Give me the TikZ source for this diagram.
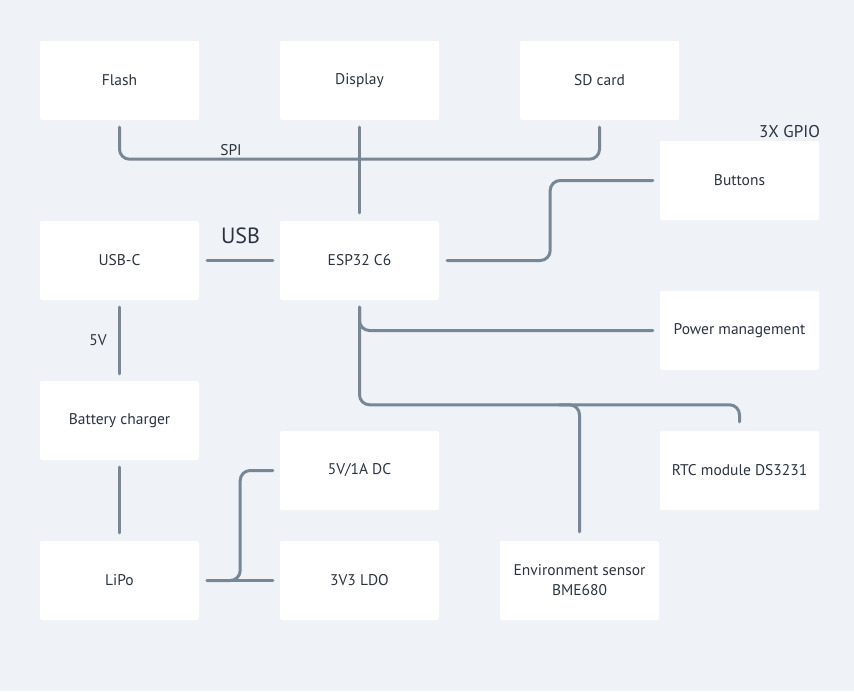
\documentclass[tikz,border=0pt]{standalone}
\usepackage{fontspec}
\setmainfont{PT Sans}
\usetikzlibrary{calc}
\definecolor{bg}{HTML}{EFF2F6}
\definecolor{wire}{HTML}{788796}
\definecolor{txt}{HTML}{2B3440}
\definecolor{shade}{HTML}{E4E8ED}
\tikzset{
  box/.style={fill=white, minimum width=159pt, minimum height=79pt, rounded corners=2pt, inner sep=0pt, text=txt, align=center, font=\fontsize{15.5}{20}\selectfont},
  wire/.style={draw=wire, line width=3pt, line cap=round, rounded corners=10pt},
  lbl/.style={text=txt, inner sep=0pt, font=\fontsize{15.5}{18}\selectfont}
}
\begin{document}
\begin{tikzpicture}[x=1pt,y=-1pt]
\fill[bg] (0,0) rectangle (854,691);
\useasboundingbox (0,0) rectangle (854,691);
\node[box] (flash) at (119.5,80.5) {Flash};
\node[box] (display) at (359.5,80.5) {Display};
\node[box] (sd) at (599.5,80.5) {SD card};
\node[box] (btn) at (739.5,180.5) {Buttons};
\node[box] (usbc) at (119.5,260.5) {USB-C};
\node[box] (esp) at (359.5,260.5) {ESP32 C6};
\node[box] (pm) at (739.5,330.5) {Power management};
\node[box] (chg) at (119.5,420.5) {Battery charger};
\node[box] (dc) at (359.5,470.5) {5V/1A DC};
\node[box] (rtc) at (739.5,470.5) {RTC module DS3231};
\node[box] (lipo) at (119.5,580.5) {LiPo};
\node[box] (ldo) at (359.5,580.5) {3V3 LDO};
\node[box] (env) at (579.5,580.5) {Environment sensor\\BME680};
% SPI bus
\draw[wire] ($(flash.south)+(0,7)$) |- ($(sd.south)+(0,39)$) -- ($(sd.south)+(0,7)$);
\draw[wire] ($(display.south)+(0,7)$) -- ($(esp.north)+(0,-8)$);
\node[lbl] (spi) at (231,150) {SPI};
% USB
\draw[wire] ($(usbc.east)+(8,0)$) -- ($(esp.west)+(-7,0)$);
\node[lbl, font=\fontsize{22}{25}\selectfont] (usb) at (240.5,236) {USB};
% Buttons
\draw[wire] ($(esp.east)+(8,0)$) -- ++(103,0) |- ($(btn.west)+(-7,0)$);
\node[lbl, font=\fontsize{17}{20}\selectfont] (gpio) at (789.5,132) {3X GPIO};
% ESP to power, RTC, env
\draw[wire] ($(esp.south)+(0,7)$) |- ($(pm.west)+(-7,0)$);
\draw[wire] ($(esp.south)+(0,7)$) |- ($(rtc.north)+(0,-26)$) -- ($(rtc.north)+(0,-9)$);
\draw[wire] ($(env.north)+(-20,-136)$) -- ($(env.north)+(0,-136)$) -- ($(env.north)+(0,-9)$);
% power chain
\draw[wire] ($(usbc.south)+(0,7)$) -- ($(chg.north)+(0,-7)$);
\node[lbl] (v5) at (98,340) {5V};
\draw[wire] ($(chg.south)+(0,7)$) -- ($(lipo.north)+(0,-8)$);
\draw[wire] ($(lipo.east)+(8,0)$) -- ($(ldo.west)+(-7,0)$);
\draw[wire] ($(lipo.east)+(8,0)$) -- ++(33,0) |- ($(dc.west)+(-7,0)$);
\end{tikzpicture}
\end{document}
